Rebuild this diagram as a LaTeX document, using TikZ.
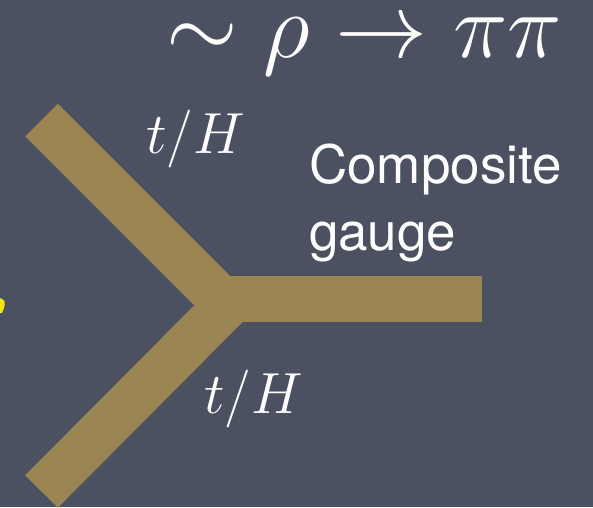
\documentclass[tikz,border=0pt]{standalone}
\usepackage{fix-cm}
\usepackage{fontspec}
\newfontfamily\heros{TeX Gyre Heros}
\definecolor{slate}{RGB}{75,81,97}
\definecolor{gold}{RGB}{155,133,82}
\definecolor{hiyellow}{RGB}{245,230,10}
\begin{document}
\begin{tikzpicture}[x=1pt,y=-1pt,
  bar/.style={draw=gold,line width=46pt,line cap=butt},
  mathlbl/.style={text=white,inner sep=0pt,font=\fontsize{58}{70}\selectfont},
  sanslbl/.style={text=white,inner sep=0pt,align=left,font=\heros\fontsize{53}{67}\selectfont}]
\fill[slate] (0,0) rectangle (593,507);
\useasboundingbox (0,0) rectangle (593,507);
% bar end points
\coordinate (ua) at (41.5,120);
\coordinate (ub) at (228,306.5);
\coordinate (ra) at (213,299);
\coordinate (rb) at (482,299);
\coordinate (la) at (41.5,491.5);
\coordinate (lb) at (228,304);
\draw[bar] (ua) -- (ub);
\draw[bar] (ra) -- (rb);
\draw[bar] (la) -- (lb);
% small yellow mark at left edge
\fill[hiyellow] (0,298) -- (3,299.5) .. controls (6,301) and (5,307) .. (2,313) -- (0,313) -- cycle;
% texts
\node[text=white,inner sep=0pt,anchor=base east,font=\fontsize{92}{110}\selectfont] (rho) at (562,57) {$\sim\rho\rightarrow\pi\pi$};
\node[mathlbl,anchor=base west] (tH1) at (146,153) {$t/H$};
\node[mathlbl,anchor=base west] (tH2) at (204,413) {$t/H$};
\node[sanslbl,anchor=base west] (comp) at (309,250) {Composite\\gauge};
\end{tikzpicture}
\end{document}
